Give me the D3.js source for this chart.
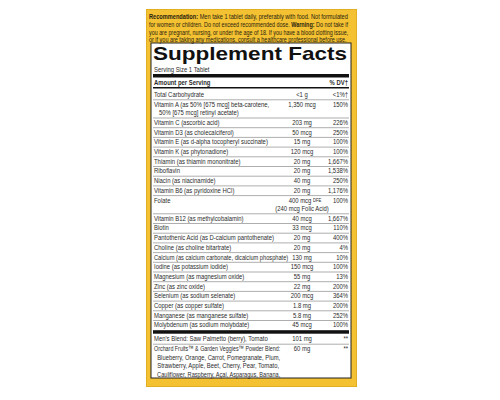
<!DOCTYPE html>
<html><head><meta charset="utf-8">
<script src="https://cdn.jsdelivr.net/npm/d3@7"></script>
<style>body{margin:0;background:#fff}text{font-family:"Liberation Sans",Arial,sans-serif}</style>
</head><body><svg id="c" width="500" height="400"></svg>
<script>
// label rows
var nutrients = ["Total Carbohydrate", "Vitamin A (as 50% [675 mcg] beta-carotene,|   50% [675 mcg] retinyl acetate)",
  "Vitamin C (ascorbic acid)", "Vitamin D3 (as cholecalciferol)", "Vitamin E (as d-alpha tocopheryl succinate)",
  "Vitamin K (as phytonadione)", "Thiamin (as thiamin mononitrate)", "Riboflavin", "Niacin (as niacinamide)",
  "Vitamin B6 (as pyridoxine HCl)", "Folate", "Vitamin B12 (as methylcobalamin)", "Biotin",
  "Pantothenic Acid (as D-calcium pantothenate)", "Choline (as choline bitartrate)",
  "Calcium (as calcium carbonate, dicalcium phosphate)", "Iodine (as potassium iodide)",
  "Magnesium (as magnesium oxide)", "Zinc (as zinc oxide)", "Selenium (as sodium selenate)",
  "Copper (as copper sulfate)", "Manganese (as manganese sulfate)", "Molybdenum (as sodium molybdate)"];
var amounts = ["<1 g", "1,350 mcg", "203 mg", "50 mcg", "15 mg", "120 mcg", "20 mg", "20 mg", "40 mg", "20 mg",
  "400 mcg DFE|(240 mcg Folic Acid)", "40 mcg", "33 mcg", "20 mg", "20 mg", "130 mg", "150 mcg", "55 mg",
  "22 mg", "200 mcg", "1.8 mg", "5.8 mg", "45 mcg"];
var dv = ["<1%†", "150%", "226%", "250%", "100%", "100%", "1,667%", "1,538%", "250%", "1,176%", "100%",
  "1,667%", "110%", "400%", "4%", "10%", "100%", "13%", "200%", "364%", "200%", "252%", "100%"];
var blends = ["Men's Blend: Saw Palmetto (berry), Tomato",
  "Orchard Fruits™ & Garden Veggies™ Powder Blend:|  Blueberry, Orange, Carrot, Pomegranate, Plum,|  Strawberry, Apple, Beet, Cherry, Pear, Tomato,|  Cauliflower, Raspberry, Açai, Asparagus, Banana,"];
var blendAmounts = ["101 mg", "60 mg"];
var recLines = [
  [["Recommendation:", 1], [" Men take 1 tablet daily, preferably with food. Not formulated", 0]],
  [["for women or children. Do not exceed recommended dose. ", 0], ["Warning:", 1], [" Do not take if", 0]],
  [["you are pregnant, nursing, or under the age of 18. If you have a blood clotting issue,", 0]],
  [["or if you are taking any medications, consult a healthcare professional before use.", 0]]];

var svg = d3.select("#c");
var L = 153, R = 349, amtX = 302, fs = 7.8, sx = 0.76, ink = "#2b2b2b";

// condensed text helper
function txt(x, y, anchor) {
  return svg.append("text").attr("transform", "translate(" + x + "," + y + ") scale(" + sx + ",1)")
    .attr("dominant-baseline", "middle").attr("text-anchor", anchor || "start")
    .attr("font-size", fs).attr("fill", ink).attr("xml:space", "preserve");
}
// squeeze a left-anchored text to a given width
function fit(t, x, y, w) {
  var n = t.node().getComputedTextLength();
  var s = Math.min(sx, w / n);
  t.attr("transform", "translate(" + x + "," + y + ") scale(" + s + ",1)");
}

svg.append("rect").attr("x", 146).attr("y", 9).attr("width", 211).attr("height", 378).attr("fill", "#f3c131");
svg.append("rect").attr("x", 146.5).attr("y", 9.5).attr("width", 210).attr("height", 377)
  .attr("fill", "none").attr("stroke", "#e2ae22");
svg.append("rect").attr("x", 151).attr("y", 43).attr("width", 200).attr("height", 335)
  .attr("fill", "#fff").attr("stroke", "#222").attr("stroke-width", 1);

// recommendation text
var ry = d3.scaleLinear().domain([0, 1]).range([17, 24.7]);
recLines.forEach(function (ln, i) {
  var t = svg.append("text").attr("dominant-baseline", "middle")
    .attr("font-size", 7.2).attr("fill", "#2a2210");
  ln.forEach(function (p) { t.append("tspan").attr("font-weight", p[1] ? "bold" : "normal").text(p[0]); });
  var n = t.node().getComputedTextLength();
  t.attr("transform", "translate(149," + ry(i) + ") scale(" + ((i < 3 ? 199 : 198) / n) + ",1)");
});

svg.append("text").attr("x", L).attr("y", 60).attr("font-family", "'DejaVu Sans',sans-serif")
  .attr("font-size", 19).attr("font-weight", "bold").attr("textLength", 194)
  .attr("lengthAdjust", "spacingAndGlyphs").attr("fill", "#111").text("Supplement Facts");
txt(L + 1, 70).text("Serving Size 1 Tablet");
svg.append("rect").attr("x", L).attr("y", 74).attr("width", R - L).attr("height", 3.5).attr("fill", "#111");
txt(L + 1, 83).attr("font-weight", "bold").text("Amount per Serving");
txt(R - 1, 83, "end").attr("font-weight", "bold").text("% DV†");
svg.append("rect").attr("x", L).attr("y", 87).attr("width", R - L).attr("height", 1.5).attr("fill", "#111");

// row positions from line counts
var pitch = 9.7, sub = 8.5, y0 = 95;
var rows = nutrients.map(function (n, i) {
  return { label: n.split("|"), amt: amounts[i].split("|"), dv: dv[i] };
});
var cy = y0;
rows.forEach(function (r) {
  var n = Math.max(r.label.length, r.amt.length);
  r.y = cy; r.bottom = cy + 4.8 + sub * (n - 1); cy += pitch + sub * (n - 1);
});
var lineY = d3.scaleLinear().domain([0, 1]).range([0, sub]);

rows.forEach(function (r, i) {
  r.label.forEach(function (t, k) { fit(txt(L + 1, r.y + lineY(k)).text(t), L + 1, r.y + lineY(k), 134); });
  r.amt.forEach(function (t, k) {
    if (t.indexOf("DFE") > 0) {
      var tx = txt(amtX + 3, r.y + lineY(k), "middle");
      tx.append("tspan").text(t.replace(" DFE", " "));
      tx.append("tspan").attr("font-size", 5.5).text("DFE");
    } else txt(amtX, r.y + lineY(k), "middle").text(t);
  });
  txt(R - 1, r.y, "end").text(r.dv);
  if (i < rows.length - 1)
    svg.append("line").attr("x1", L).attr("x2", R).attr("y1", r.bottom).attr("y2", r.bottom)
      .attr("stroke", "#777").attr("stroke-width", 0.6);
});

var last = rows[rows.length - 1];
svg.append("rect").attr("x", L).attr("y", last.bottom).attr("width", R - L).attr("height", 3.5).attr("fill", "#111");

cy = last.bottom + 8.5;
blends.forEach(function (b, i) {
  b.split("|").forEach(function (t, k) { fit(txt(L + 1, cy + lineY(k)).text(t), L + 1, cy + lineY(k), 126); });
  txt(amtX, cy, "middle").text(blendAmounts[i]);
  txt(R - 1, cy, "end").text("**");
  if (i === 0)
    svg.append("line").attr("x1", L).attr("x2", R).attr("y1", cy + 5.5).attr("y2", cy + 5.5)
      .attr("stroke", "#777").attr("stroke-width", 0.6);
  cy += 10.5;
});
</script></body></html>
